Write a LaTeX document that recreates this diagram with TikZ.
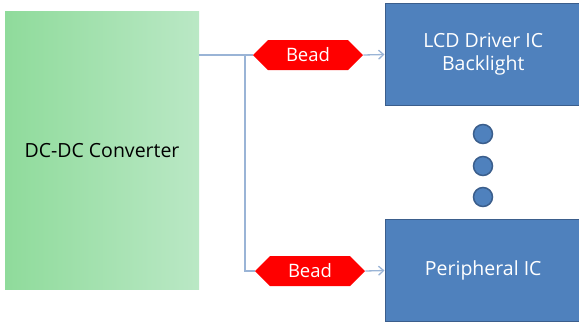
\documentclass[tikz,border=0pt]{standalone}
\usepackage{fontspec}
\setmainfont{Open Sans}
\usetikzlibrary{shapes.symbols,arrows.meta}
\definecolor{gL}{HTML}{8FDB9B}
\definecolor{gR}{HTML}{BAE8C5}
\definecolor{bfill}{HTML}{4F81BD}
\definecolor{bdraw}{HTML}{3B5E8C}
\definecolor{wire}{HTML}{9AB4D6}
\tikzset{
  icbox/.style={draw=bdraw, line width=1.5pt, fill=bfill, text=white, minimum width=196pt, minimum height=102pt, inner sep=0pt, align=center, font=\fontsize{19.5}{23}\selectfont},
  bead/.style={shape=signal, signal to=west and east, signal pointer angle=90, fill=red, text=white, minimum width=110pt, minimum height=30pt, inner sep=0pt, font=\fontsize{18.5}{20}\selectfont},
  dotc/.style={circle, draw=bdraw, line width=1.5pt, fill=bfill, minimum size=19pt, inner sep=0pt},
  wireline/.style={draw=wire, line width=1.3pt},
  wirearrow/.style={wireline, -{Straight Barb[length=5pt,width=9pt]}}
}
\begin{document}
\begin{tikzpicture}[x=1pt,y=-1pt]
\useasboundingbox (0,0) rectangle (579,325);
\shade[left color=gL, right color=gR] (5,11) rectangle (199,289);
\node[text=black, font=\fontsize{19.5}{23}\selectfont] (dc) at (102,151) {DC-DC Converter};
\coordinate (dcout) at (199,55);
\node[bead] (b1) at (308,55) {Bead};
\node[bead] (b2) at (310,271) {Bead};
\node[icbox, anchor=west] (lcd) at (384.5,54.5) {LCD Driver IC\\Backlight};
\node[icbox, anchor=west] (per) at (384.5,270.5) {Peripheral IC};
\node[dotc] (d1) at (483,134) {};
\node[dotc] (d2) at (483,166) {};
\node[dotc] (d3) at (483,197) {};
\coordinate (j) at (245,55);
\draw[wireline] (dcout) -- (b1.west);
\draw[wireline] (j) |- (b2.west);
\draw[wirearrow] (b1.east) -- (lcd.west);
\draw[wirearrow] (b2.east) -- (per.west);
\end{tikzpicture}
\end{document}
